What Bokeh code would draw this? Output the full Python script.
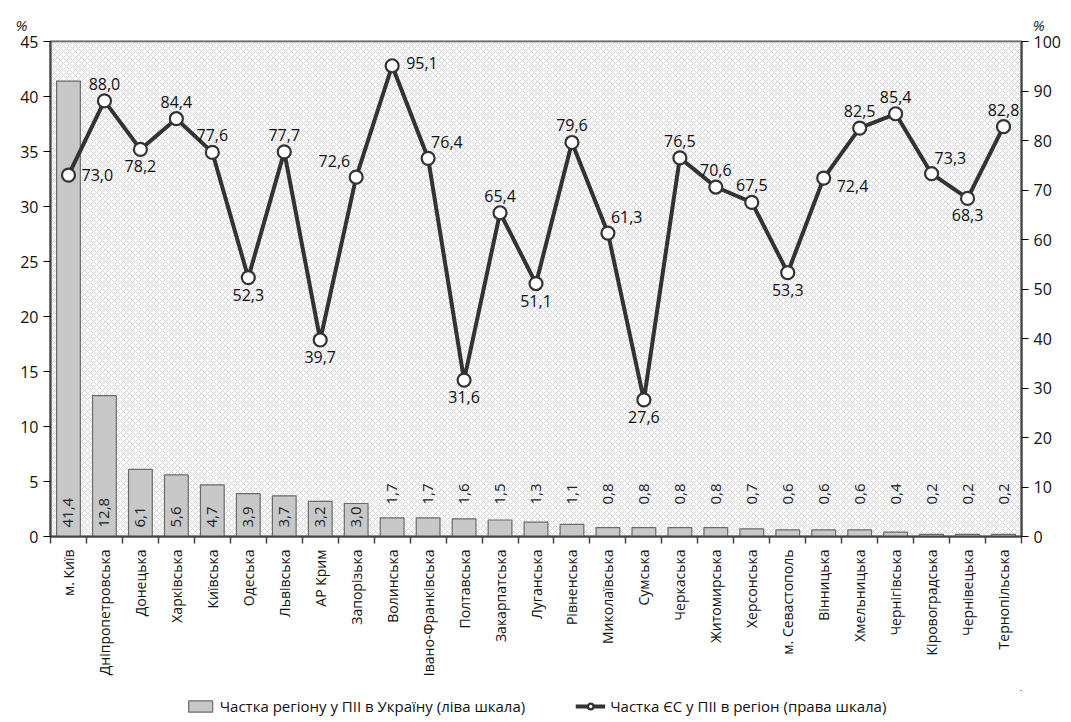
import math
from bokeh.plotting import figure
from bokeh.layouts import column
from bokeh.models import (Range1d, LinearAxis, FixedTicker, BoxAnnotation, Legend,
                          LegendItem)
from bokeh.core.properties import value
from bokeh.embed import file_html
from bokeh.resources import INLINE

regions = ["м. Київ", "Дніпропетровська", "Донецька", "Харківська", "Київська", "Одеська",
           "Львівська", "АР Крим", "Запорізька", "Волинська", "Івано-Франківська", "Полтавська",
           "Закарпатська", "Луганська", "Рівненська", "Миколаївська", "Сумська", "Черкаська",
           "Житомирська", "Херсонська", "м. Севастополь", "Вінницька", "Хмельницька",
           "Чернігівська", "Кіровоградська", "Чернівецька", "Тернопільська"]
region_share = [41.4, 12.8, 6.1, 5.6, 4.7, 3.9, 3.7, 3.2, 3.0, 1.7, 1.7, 1.6, 1.5, 1.3, 1.1,
                0.8, 0.8, 0.8, 0.8, 0.7, 0.6, 0.6, 0.6, 0.4, 0.2, 0.2, 0.2]
eu_share = [73.0, 88.0, 78.2, 84.4, 77.6, 52.3, 77.7, 39.7, 72.6, 95.1, 76.4, 31.6, 65.4, 51.1,
            79.6, 61.3, 27.6, 76.5, 70.6, 67.5, 53.3, 72.4, 82.5, 85.4, 73.3, 68.3, 82.8]
left_ticks = [0, 5, 10, 15, 20, 25, 30, 35, 40, 45]
right_ticks = [0, 10, 20, 30, 40, 50, 60, 70, 80, 90, 100]
legend_labels = ["Частка регіону у ПІІ в Україну (ліва шкала)",
                 "Частка ЄС у ПІІ в регіон (права шкала)"]

# label placement for the line labels (style only)
label_place = ["r", "a", "b", "a", "a", "b", "a", "b", "al", "ru", "ar", "b", "a", "b", "a",
               "ar", "b", "a", "a", "a", "b", "rd", "a", "a", "ar", "b", "a"]

def fmt(v):
    return f"{v:.1f}".replace(".", ",")

idx = list(range(len(regions)))
FONT = "Open Sans"
BAR_FILL, BAR_LINE, LINE_COL = "#c8c8c8", "#6a6a6a", "#333333"

p = figure(width=1063, height=690, output_backend="svg", toolbar_location=None,
           x_range=Range1d(-0.5, len(regions) - 0.5), y_range=Range1d(0, 45),
           min_border_left=50, min_border_right=41, min_border_top=41, min_border_bottom=154)
p.extra_y_ranges = {"right": Range1d(0, 100)}
p.xgrid.visible = False
p.ygrid.visible = False
p.background_fill_color = "white"
p.border_fill_color = "white"
p.outline_line_color = "#555555"
p.outline_line_width = 2

# "%" markers above both axes
p.title.text = "%" + "\u00a0" * 258 + "%"
p.title.align = "left"
p.title.offset = -35
p.title.standoff = 14
p.title.text_font = FONT
p.title.text_font_size = "15px"
p.title.text_font_style = "italic"
p.title.text_color = "#222222"

bg = BoxAnnotation(fill_color="#f3f3f3", hatch_pattern="diagonal_cross", hatch_color="#d6d6d6",
                   hatch_scale=6, hatch_weight=1, line_color=None, level="underlay")
p.add_layout(bg)

# axes
xa = p.xaxis[0]
xa.ticker = FixedTicker(ticks=idx, minor_ticks=[i - 0.5 for i in idx] + [len(idx) - 0.5])
xa.major_label_overrides = {i: r for i, r in enumerate(regions)}
xa.major_label_orientation = math.pi / 2
xa.major_tick_out = 0
xa.major_tick_in = 0
xa.minor_tick_out = 7
xa.minor_tick_in = 0
xa.axis_line_color = "#444444"
xa.axis_line_width = 2
xa.minor_tick_line_color = "#444444"
xa.minor_tick_line_width = 1.5
xa.major_label_text_font = FONT
xa.major_label_text_font_size = "14px"
xa.major_label_text_color = "#111111"
xa.major_label_standoff = 6

ya = p.yaxis[0]
ya.ticker = FixedTicker(ticks=left_ticks)
ya.minor_tick_line_color = None
ya.major_tick_out = 7
ya.major_tick_in = 0
ya.axis_line_color = "#444444"
ya.axis_line_width = 2
ya.major_label_text_font = FONT
ya.major_label_text_font_size = "16px"
ya.major_label_text_color = "#111111"

ra = LinearAxis(y_range_name="right", ticker=FixedTicker(ticks=right_ticks))
ra.minor_tick_line_color = None
ra.major_tick_out = 7
ra.major_tick_in = 0
ra.axis_line_color = "#444444"
ra.axis_line_width = 2
ra.major_label_text_font = FONT
ra.major_label_text_font_size = "16px"
ra.major_label_text_color = "#111111"
ra.major_label_standoff = 5
p.add_layout(ra, "right")

# bars
p.vbar(x=idx, top=region_share, width=0.66, fill_color=BAR_FILL,
       line_color=BAR_LINE, line_width=1.2)

big = [i for i in idx if region_share[i] >= 3]
small = [i for i in idx if region_share[i] < 3]
p.text(x=big, y=[0] * len(big), text=[fmt(region_share[i]) for i in big], angle=math.pi / 2,
       text_align="left", text_baseline="middle", y_offset=-9,
       text_font=value(FONT), text_font_size="15px", text_color="#222222")
p.text(x=small, y=[0] * len(small), text=[fmt(region_share[i]) for i in small], angle=math.pi / 2,
       text_align="right", text_baseline="middle", y_offset=-53,
       text_font=value(FONT), text_font_size="15px", text_color="#222222")

# line
p.line(x=idx, y=eu_share, y_range_name="right", line_color=LINE_COL, line_width=4)
p.scatter(x=idx, y=eu_share, y_range_name="right", size=13, marker="circle",
          fill_color="white", line_color=LINE_COL, line_width=2.2)

offsets = {
    "a": (0, -11, "center", "bottom"),
    "b": (0, 11, "center", "top"),
    "r": (13, 0, "left", "middle"),
    "ru": (14, -3, "left", "middle"),
    "rd": (13, 8, "left", "middle"),
    "ar": (3, -10, "left", "bottom"),
    "al": (-6, -10, "right", "bottom"),
}
for key, (dx, dy, al, bl) in offsets.items():
    sel = [i for i in idx if label_place[i] == key]
    if not sel:
        continue
    p.text(x=sel, y=[eu_share[i] for i in sel], text=[fmt(eu_share[i]) for i in sel],
           y_range_name="right", x_offset=dx, y_offset=dy, text_align=al, text_baseline=bl,
           text_font=value(FONT), text_font_size="16px", text_color="#111111")

# legend strip below the chart (its proxy renderers lie outside the visible range)
lg = figure(width=1063, height=32, output_backend="svg", toolbar_location=None,
            x_range=Range1d(-1000, -999), y_range=Range1d(-1000, -999), min_border=0,
            x_axis_type=None, y_axis_type=None)
lg.xgrid.visible = False
lg.ygrid.visible = False
lg.outline_line_color = None
lg.border_fill_color = "white"
lg.background_fill_color = "white"
lb = lg.vbar(x=idx, top=region_share, width=0.66, fill_color=BAR_FILL, line_color=BAR_LINE,
             line_width=1.2)
ll = lg.line(x=idx, y=eu_share, line_color=LINE_COL, line_width=4)
ls = lg.scatter(x=idx, y=eu_share, size=11, marker="circle", fill_color="white",
                line_color=LINE_COL, line_width=2.2)
legend = Legend(items=[
    LegendItem(label=legend_labels[0], renderers=[lb]),
    LegendItem(label=legend_labels[1], renderers=[ll, ls]),
], location="center", orientation="horizontal", spacing=50, padding=2, margin=0,
    border_line_color=None, background_fill_alpha=0, label_text_font=FONT,
    label_text_font_size="15px", label_text_color="#111111", glyph_width=30, glyph_height=14)
lg.add_layout(legend)

layout = column(p, lg, spacing=0)
open("out.html", "w").write(file_html(layout, INLINE))
